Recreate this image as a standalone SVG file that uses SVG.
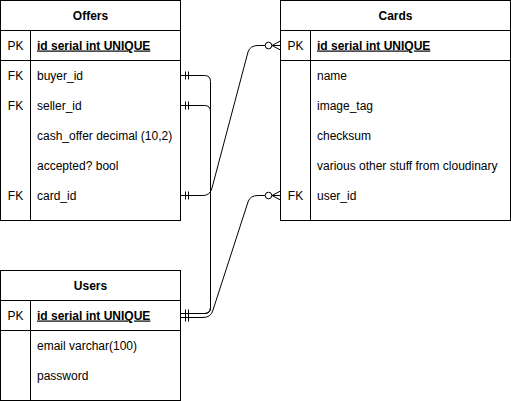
<svg xmlns="http://www.w3.org/2000/svg" width="511" height="401" viewBox="0 0 511 401">
<style>
text{font-family:"Liberation Sans",Arial,Helvetica,sans-serif;font-size:12px;fill:#000}
.t{font-weight:bold;text-anchor:middle}
.k{text-anchor:middle}
.pk{font-weight:bold;text-decoration:underline}
.box{fill:#fff;stroke:#000;stroke-width:1}
.ln{fill:none;stroke:#000;stroke-width:1}
</style>
<rect width="511" height="401" fill="#fff"/>
<g id="connectors" class="ln">
  <!-- buyer_id -> Users PK -->
  <path d="M180.5,75.5 H204.5 Q210.5,75.5 210.5,81.5 V307.5 Q210.5,313.5 204.5,313.5 H180.5"/>
  <!-- seller_id -> Users PK -->
  <path d="M180.5,105.5 H204.5 Q210.5,105.5 210.5,111.5 V307.5 Q210.5,313.5 204.5,313.5 H180.5"/>
  <!-- card_id -> Cards PK -->
  <path d="M180.5,195.5 H203 Q210,195.5 212,188 L248,52 Q250,45.5 258,45.5 H265"/>
  <circle cx="268.5" cy="45.5" r="3.3"/>
  <path d="M271.8,45.5 H280.5 M272,45.5 L280.5,41 M272,45.5 L280.5,50"/>
  <!-- Users PK -> Cards user_id -->
  <path d="M180.5,317.5 H203 Q211,317.5 213,310 L248,202 Q250,195.5 258,195.5 H265"/>
  <circle cx="268.5" cy="195.5" r="3.3"/>
  <path d="M271.8,195.5 H280.5 M272,195.5 L280.5,191 M272,195.5 L280.5,200"/>
  <!-- mandatory-one ticks -->
  <path d="M185.5,71.5 V79.5 M188.5,71.5 V79.5"/>
  <path d="M185.5,101.5 V109.5 M188.5,101.5 V109.5"/>
  <path d="M185.5,191.5 V199.5 M188.5,191.5 V199.5"/>
  <path d="M185.5,309.5 V321.5 M188.5,309.5 V321.5"/>
</g>
<g id="offers">
  <rect class="box" x="0.5" y="0.5" width="180" height="220"/>
  <path class="ln" d="M0.5,30.5 H180.5 M0.5,60.5 H180.5 M30.5,30.5 V220.5"/>
  <text class="t" x="90.5" y="19.5">Offers</text>
  <text class="k" x="15.5" y="49.5">PK</text>
  <text class="pk" x="37" y="49.5">id serial int UNIQUE</text>
  <text class="k" x="15.5" y="79.5">FK</text>
  <text x="37" y="79.5">buyer_id</text>
  <text class="k" x="15.5" y="109.5">FK</text>
  <text x="37" y="109.5">seller_id</text>
  <text x="37" y="139.5">cash_offer decimal (10,2)</text>
  <text x="37" y="169.5">accepted? bool</text>
  <text class="k" x="15.5" y="199.5">FK</text>
  <text x="37" y="199.5">card_id</text>
</g>
<g id="cards">
  <rect class="box" x="280.5" y="0.5" width="230" height="220"/>
  <path class="ln" d="M280.5,30.5 H510.5 M280.5,60.5 H510.5 M310.5,30.5 V220.5"/>
  <text class="t" x="395.5" y="19.5">Cards</text>
  <text class="k" x="295.5" y="49.5">PK</text>
  <text class="pk" x="317" y="49.5">id serial int UNIQUE</text>
  <text x="317" y="79.5">name</text>
  <text x="317" y="109.5">image_tag</text>
  <text x="317" y="139.5">checksum</text>
  <text x="317" y="169.5">various other stuff from cloudinary</text>
  <text class="k" x="295.5" y="199.5">FK</text>
  <text x="317" y="199.5">user_id</text>
</g>
<g id="users">
  <rect class="box" x="0.5" y="270.5" width="180" height="130"/>
  <path class="ln" d="M0.5,300.5 H180.5 M0.5,330.5 H180.5 M30.5,300.5 V400.5"/>
  <text class="t" x="90.5" y="289.5">Users</text>
  <text class="k" x="15.5" y="319.5">PK</text>
  <text class="pk" x="37" y="319.5">id serial int UNIQUE</text>
  <text x="37" y="349.5">email varchar(100)</text>
  <text x="37" y="379.5">password</text>
</g>
</svg>
